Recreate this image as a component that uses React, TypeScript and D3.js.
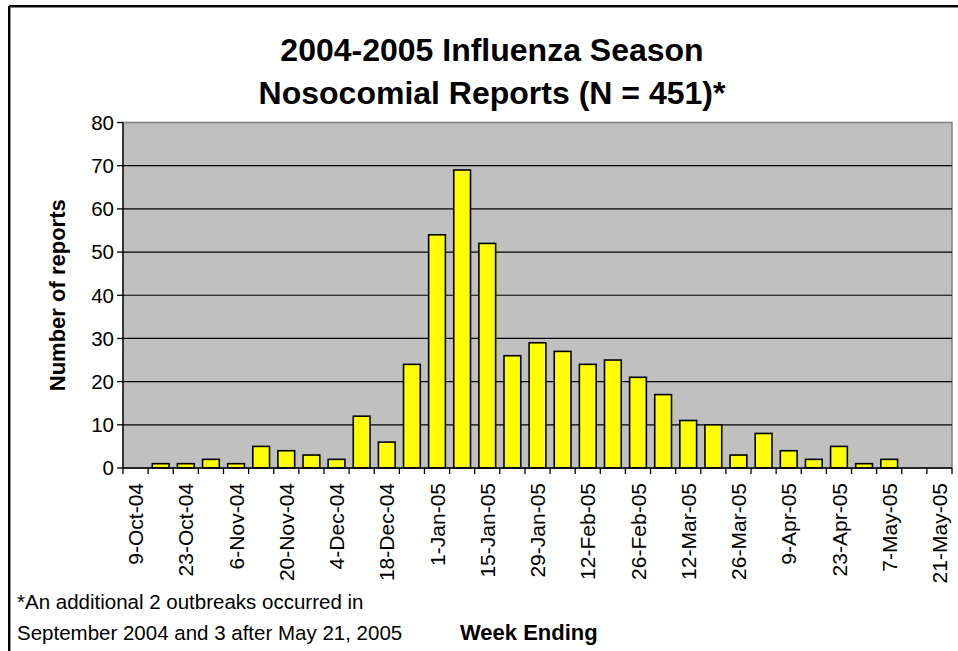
import React from "react";
import * as d3 from "d3";

const weeks = [
  "9-Oct-04", "16-Oct-04", "23-Oct-04", "30-Oct-04", "6-Nov-04", "13-Nov-04",
  "20-Nov-04", "27-Nov-04", "4-Dec-04", "11-Dec-04", "18-Dec-04", "25-Dec-04",
  "1-Jan-05", "8-Jan-05", "15-Jan-05", "22-Jan-05", "29-Jan-05", "5-Feb-05",
  "12-Feb-05", "19-Feb-05", "26-Feb-05", "5-Mar-05", "12-Mar-05", "19-Mar-05",
  "26-Mar-05", "2-Apr-05", "9-Apr-05", "16-Apr-05", "23-Apr-05", "30-Apr-05",
  "7-May-05", "14-May-05", "21-May-05",
];
const reports = [
  0, 1, 1, 2, 1, 5, 4, 3, 2, 12, 6, 24, 54, 69, 52, 26, 29, 27, 24, 25, 21, 17,
  11, 10, 3, 8, 4, 2, 5, 1, 2, 0, 0,
];
const yTicks = [0, 10, 20, 30, 40, 50, 60, 70, 80];
const titleLines = ["2004-2005 Influenza Season", "Nosocomial Reports (N = 451)*"];
const footnoteLines = [
  "*An additional 2 outbreaks occurred in",
  "September 2004 and 3 after May 21, 2005",
];
const yAxisTitle = "Number of reports";
const xAxisTitle = "Week Ending";

const W = 958;
const H = 651;
const plot = { left: 123, right: 952, top: 122.5, bottom: 468 };
const FONT = "'Liberation Sans', Arial, Helvetica, sans-serif";

export default function App() {
  const x = d3
    .scaleBand<string>()
    .domain(weeks)
    .range([plot.left, plot.right])
    .paddingInner(1 / 3)
    .paddingOuter(1 / 6);
  const y = d3.scaleLinear().domain([0, 80]).range([plot.bottom, plot.top]);
  const step = x.step();
  const boundaries = d3.range(weeks.length + 1).map((i) => plot.left + i * step);

  return (
    <svg
      width={W}
      height={H}
      style={{ position: "absolute", left: 0, top: 0, background: "#fff" }}
      fontFamily={FONT}
    >
      {/* outer frame */}
      <line x1={10} y1={7} x2={W} y2={7} stroke="#888" strokeWidth={2} />
      <line x1={10} y1={7} x2={10} y2={H} stroke="#888" strokeWidth={2} />
      <line x1={9} y1={6} x2={W} y2={6} stroke="#000" strokeWidth={2} />
      <line x1={9} y1={6} x2={9} y2={H} stroke="#000" strokeWidth={2} />

      {/* title */}
      {titleLines.map((t, i) => (
        <text
          key={t}
          x={492}
          y={61 + i * 43}
          textAnchor="middle"
          fontWeight="bold"
          fontSize={32}
        >
          {t}
        </text>
      ))}

      {/* plot background */}
      <rect
        x={plot.left}
        y={plot.top}
        width={plot.right - plot.left}
        height={plot.bottom - plot.top}
        fill="#C0C0C0"
        stroke="#808080"
        strokeWidth={1.5}
      />

      {/* gridlines */}
      {yTicks
        .filter((v) => v > 0 && v < 80)
        .map((v) => (
          <line
            key={v}
            x1={plot.left}
            x2={plot.right}
            y1={y(v)}
            y2={y(v)}
            stroke="#000"
            strokeWidth={1.2}
          />
        ))}

      {/* bars */}
      {weeks.map((w, i) =>
        reports[i] > 0 ? (
          <rect
            key={w}
            x={x(w)}
            y={y(reports[i])}
            width={x.bandwidth()}
            height={plot.bottom - y(reports[i])}
            fill="#FFFF00"
            stroke="#000"
            strokeWidth={1.6}
          />
        ) : null
      )}

      {/* y axis */}
      <line x1={plot.left} x2={plot.left} y1={plot.top} y2={plot.bottom} stroke="#000" strokeWidth={1.3} />
      {yTicks.map((v) => (
        <g key={v}>
          <line x1={plot.left - 6} x2={plot.left} y1={y(v)} y2={y(v)} stroke="#000" strokeWidth={1.3} />
          <text x={plot.left - 9} y={y(v)} dy="0.36em" textAnchor="end" fontSize={20.5}>
            {v}
          </text>
        </g>
      ))}

      {/* x axis */}
      <line x1={plot.left} x2={plot.right} y1={plot.bottom} y2={plot.bottom} stroke="#000" strokeWidth={1.3} />
      {boundaries.map((bx, i) => (
        <line key={i} x1={bx} x2={bx} y1={plot.bottom} y2={plot.bottom + 6} stroke="#000" strokeWidth={1.3} />
      ))}
      {weeks.map((w, i) =>
        i % 2 === 0 ? (
          <text
            key={w}
            transform={`translate(${(x(w) ?? 0) + x.bandwidth() / 2},${plot.bottom + 15}) rotate(-90)`}
            dy="0.36em"
            textAnchor="end"
            fontSize={21}
          >
            {w}
          </text>
        ) : null
      )}

      {/* axis titles */}
      <text
        transform={`translate(57,${(plot.top + plot.bottom) / 2}) rotate(-90)`}
        dy="0.36em"
        textAnchor="middle"
        fontWeight="bold"
        fontSize={22}
      >
        {yAxisTitle}
      </text>
      <text x={460} y={640} fontWeight="bold" fontSize={22}>
        {xAxisTitle}
      </text>

      {/* footnote */}
      {footnoteLines.map((t, i) => (
        <text key={t} x={17} y={609 + i * 31} fontSize={20.5}>
          {t}
        </text>
      ))}
    </svg>
  );
}
